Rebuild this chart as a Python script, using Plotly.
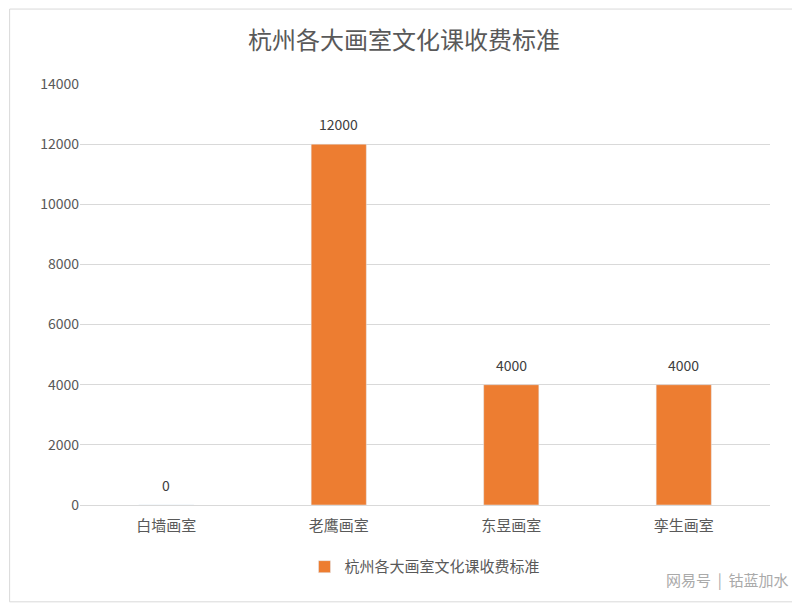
import plotly.graph_objects as go

categories = ["白墙画室", "老鹰画室", "东昱画室", "孪生画室"]
fees = [0, 12000, 4000, 4000]
series_name = "杭州各大画室文化课收费标准"
tick_vals = [0, 2000, 4000, 6000, 8000, 10000, 12000, 14000]

fig = go.Figure()
fig.add_trace(go.Bar(
    x=categories, y=fees, name=series_name,
    marker_color="#ED7D31",
))

# value labels above the bars
labels = [dict(x=c, y=v, text=str(v), yshift=20, showarrow=False,
               font=dict(size=14, color="#404040")) for c, v in zip(categories, fees)]

fig.update_layout(
    width=792, height=596,
    margin=dict(l=72, r=30, t=76, b=99),
    paper_bgcolor="white", plot_bgcolor="white",
    font=dict(family="Noto Sans CJK SC", color="#595959", size=15),
    title=dict(text=series_name, x=0.5, xanchor="center", y=0.946, yanchor="middle",
               font=dict(size=24, color="#595959")),
    bargap=0.68,
    showlegend=True,
    legend=dict(orientation="h", x=0.5, xanchor="center", y=-0.147, yanchor="middle",
                font=dict(size=15, color="#595959")),
    yaxis=dict(range=[0, 14000], tickvals=tick_vals, ticktext=[str(v) for v in tick_vals],
               gridcolor="#D9D9D9", zeroline=False, tickfont=dict(size=14), ticks=""),
    xaxis=dict(showline=True, linecolor="#D9D9D9", tickfont=dict(size=15),
               ticklabelstandoff=7),
    shapes=[dict(type="rect", xref="paper", yref="paper", x0=-0.102, x1=1.04,
                 y0=-0.23, y1=1.178, line=dict(color="#D9D9D9", width=1))],
    annotations=labels + [dict(text="网易号  |  钴蓝加水", xref="paper", yref="paper",
                      x=1.03, y=-0.178, xanchor="right", yanchor="middle", showarrow=False,
                      font=dict(size=15, color="#AAAAAA"))],
)

fig.write_html("out.html")
